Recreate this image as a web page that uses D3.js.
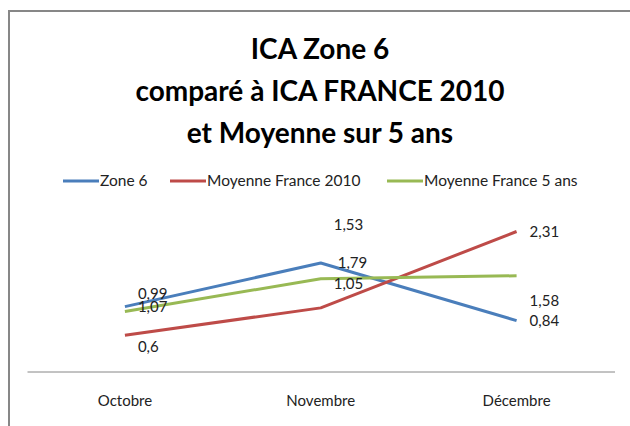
<!DOCTYPE html>
<html>
<head>
<meta charset="utf-8">
<script src="https://cdn.jsdelivr.net/npm/d3@7"></script>
<style>
  html, body { margin: 0; padding: 0; background: #fff; }
  svg { display: block; }
  text { font-family: Lato, "Noto Sans", sans-serif; }
</style>
</head>
<body>
<svg id="chart" width="630" height="426"></svg>
<script>
// ---- data ----
const categories = ["Octobre", "Novembre", "Décembre"];
const seriesNames = ["Zone 6", "Moyenne France 2010", "Moyenne France 5 ans"];
const zone6 = [1.07, 1.79, 0.84];
const france2010 = [0.6, 1.05, 2.31];
const france5ans = [0.99, 1.53, 1.58];
const titleLines = ["ICA Zone 6", "comparé à ICA FRANCE 2010", "et Moyenne sur 5 ans"];

// ---- style / layout ----
const colors = ["#4A7EBB", "#BE4B48", "#98B954"];
// manual label offsets (px) relative to the "right" default position
const labelOffsets = [
  [[0, 0], [4, 0], [0, 0]],
  [[0, 12], [0, -24], [0, 0]],
  [[0, -18], [0, -54], [0, 25]]
];

const svg = d3.select("#chart");
const W = 630, H = 426;

// outer chart border
svg.append("rect")
  .attr("x", 9).attr("y", 11)
  .attr("width", W).attr("height", H)
  .attr("fill", "#fff")
  .attr("stroke", "#878787").attr("stroke-width", 2);

// title
const title = svg.append("g");
titleLines.forEach((t, i) => {
  title.append("text")
    .attr("x", 320).attr("y", 59 + i * 42)
    .attr("text-anchor", "middle")
    .attr("font-size", 28).attr("font-weight", "bold")
    .attr("fill", "#000")
    .text(t);
});

// scales
const x = d3.scaleBand().domain(categories).range([27, 614.5]);
const y = d3.scaleLinear().domain([0, 2.5]).range([371.5, 220]);

// x axis
const xAxis = d3.axisBottom(x).tickSize(0).tickPadding(24);
const gx = svg.append("g").attr("transform", `translate(0,${y(0)})`).call(xAxis);
gx.select(".domain").attr("stroke", "#868686").attr("stroke-width", 1);
gx.selectAll("text")
  .attr("font-size", 15).attr("fill", "#222")
  .attr("font-family", "Lato, sans-serif");

// series
const series = [zone6, france2010, france5ans];
const line = d3.line()
  .x((d, i) => x(categories[i]) + x.bandwidth() / 2)
  .y(d => y(d));

series.forEach((vals, s) => {
  svg.append("path")
    .datum(vals)
    .attr("d", line)
    .attr("fill", "none")
    .attr("stroke", colors[s])
    .attr("stroke-width", 3)
    .attr("stroke-linejoin", "round");
});

// data labels
series.forEach((vals, s) => {
  vals.forEach((v, i) => {
    const off = labelOffsets[s][i];
    svg.append("text")
      .attr("x", x(categories[i]) + x.bandwidth() / 2 + 13 + off[0])
      .attr("y", y(v) + off[1])
      .attr("dy", "0.35em")
      .attr("font-size", 15)
      .attr("fill", "#222")
      .text(String(v).replace(".", ","));
  });
});

// legend
const legendX = [63, 170, 387];
seriesNames.forEach((n, s) => {
  const g = svg.append("g").attr("transform", `translate(${legendX[s]},181)`);
  g.append("line").attr("x1", 0).attr("x2", 36).attr("y1", 0).attr("y2", 0)
    .attr("stroke", colors[s]).attr("stroke-width", 3);
  g.append("text").attr("x", 37).attr("y", 0).attr("dy", "0.35em")
    .attr("font-size", 15.5).attr("fill", "#222").text(n);
});
</script>
</body>
</html>
